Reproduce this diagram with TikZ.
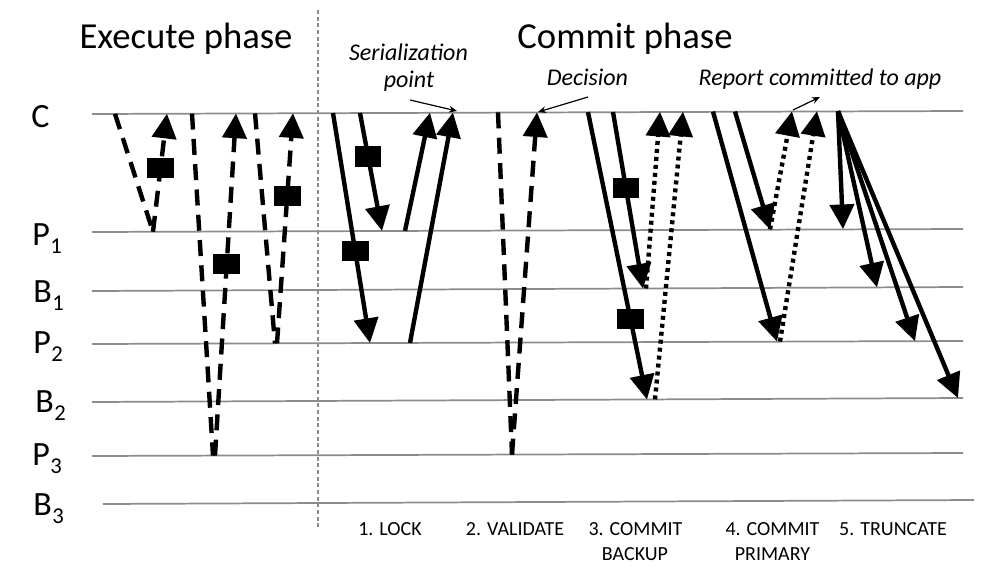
\documentclass[tikz,border=0pt]{standalone}
\usepackage{fontspec}
\setmainfont{Carlito}
\usetikzlibrary{arrows.meta}
\newcommand\lanesub[2]{#1\kern0.5pt\raisebox{-6pt}{\fontsize{17}{17}\selectfont #2}}
\begin{document}
\begin{tikzpicture}[x=0.75pt,y=-0.75pt,
  lane/.style={draw=black!45, line width=1.3pt},
  divider/.style={draw=black!45, line width=0.9pt, dash pattern=on 3pt off 2pt},
  msg/.style={draw=black, line width=3.3pt},
  arr/.style={-{Triangle[length=18.5pt,width=18pt]}},
  dsh/.style={dash pattern=on 12pt off 7pt},
  dts/.style={dash pattern=on 3pt off 3pt},
  sq/.style={fill=black, minimum width=20pt, minimum height=15.5pt, inner sep=0pt, outer sep=0pt},
  note/.style={draw=black, line width=0.9pt, -{Stealth[length=6pt,width=5pt]}},
  head/.style={font=\fontsize{27.5}{30}\selectfont, anchor=base, inner sep=0pt},
  lanelbl/.style={font=\fontsize{25.5}{28}\selectfont, anchor=base west, inner sep=0pt},
  ital/.style={font=\fontsize{18}{20}\selectfont\itshape, anchor=base, inner sep=0pt},
  stepl/.style={font=\fontsize{15}{17}\selectfont, anchor=base, inner sep=0pt}]
\useasboundingbox (0,0) rectangle (990,576);
\fill[white] (0,0) rectangle (990,576);

% lanes
\coordinate (Cl) at (92,114);  \coordinate (Cr) at (963,111);
\coordinate (P1l) at (92,232); \coordinate (P1r) at (963,229);
\coordinate (B1l) at (92,291); \coordinate (B1r) at (963,287);
\coordinate (P2l) at (92,344); \coordinate (P2r) at (963,341);
\coordinate (B2l) at (92,402); \coordinate (B2r) at (963,398);
\coordinate (P3l) at (92,456); \coordinate (P3r) at (963,453);
\coordinate (B3l) at (103,504); \coordinate (B3r) at (974,500);
\foreach \l in {C,P1,B1,P2,B2,P3,B3} {\draw[lane] (\l l) -- (\l r);}

% divider
\coordinate (dvt) at (318,10); \coordinate (dvb) at (318,528);
\draw[divider] (dvt) -- (dvb);

% titles
\node[head] (exec) at (186,48) {Execute phase};
\node[head] (commit) at (625,48) {Commit phase};

% lane labels
\node[lanelbl] (lC) at (31,127) {C};
\node[lanelbl] (lP1) at (32,245) {\lanesub{P}{1}};
\node[lanelbl] (lB1) at (33,302) {\lanesub{B}{1}};
\node[lanelbl] (lP2) at (33,353) {\lanesub{P}{2}};
\node[lanelbl] (lB2) at (35,412) {\lanesub{B}{2}};
\node[lanelbl] (lP3) at (32,465) {\lanesub{P}{3}};
\node[lanelbl] (lB3) at (33,515) {\lanesub{B}{3}};

% ---------- execute phase ----------
\coordinate (e1a) at (115,113.9); \coordinate (e1b) at (153,231.8); \coordinate (e1c) at (167,113.7);
\draw[msg,dsh] (e1a) -- (e1b);
\draw[msg,dsh,arr] (e1b) -- node[sq,pos=.54] (s1) {} (e1c);
\coordinate (e2a) at (192,113.6); \coordinate (e2b) at (213,455.6); \coordinate (e2c) at (215,455.6); \coordinate (e2d) at (236,113.5);
\draw[msg,dsh] (e2a) -- (e2b);
\draw[msg,dsh,arr] (e2c) -- node[sq,pos=.56] (s2) {} (e2d);
\coordinate (e3a) at (255,113.4); \coordinate (e3b) at (275,343.4); \coordinate (e3c) at (277,343.4); \coordinate (e3d) at (293,113.2);
\draw[msg,dsh] (e3a) -- (e3b);
\draw[msg,dsh,arr] (e3c) -- node[sq,pos=.64] (s3) {} (e3d);

% ---------- 1. lock ----------
\coordinate (k1a) at (333,113.1); \coordinate (k1b) at (370,343);
\draw[msg,arr] (k1a) -- node[sq,pos=.60] (s4) {} (k1b);
\coordinate (k2a) at (360,113); \coordinate (k2b) at (382,230.9);
\draw[msg,arr] (k2a) -- node[sq,pos=.37] (s5) {} (k2b);
\coordinate (k3a) at (405,230.8); \coordinate (k3b) at (430,112.7);
\draw[msg,arr] (k3a) -- (k3b);
\coordinate (k4a) at (410,342.9); \coordinate (k4b) at (453,112.6);
\draw[msg,arr] (k4a) -- (k4b);

% ---------- 2. validate ----------
\coordinate (v1a) at (498,112.4); \coordinate (v1b) at (512,454.6); \coordinate (v1c) at (537,112.3);
\draw[msg,dsh] (v1a) -- (v1b);
\draw[msg,dsh,arr] (v1b) -- (v1c);

% ---------- 3. commit backup ----------
\coordinate (b1a) at (588,112.1); \coordinate (b1b) at (647,399.5);
\draw[msg,arr] (b1a) -- node[sq,pos=.72] (s6) {} (b1b);
\coordinate (b2a) at (613,112); \coordinate (b2b) at (643,288.5);
\draw[msg,arr] (b2a) -- node[sq,pos=.43] (s7) {} (b2b);
\coordinate (b3a) at (646,288.5); \coordinate (b3b) at (660,111.8);
\draw[msg,dts,arr] (b3a) -- (b3b);
\coordinate (b4a) at (655,399.4); \coordinate (b4b) at (683,111.7);
\draw[msg,dts,arr] (b4a) -- (b4b);

% ---------- 4. commit primary ----------
\coordinate (p1a) at (713,111.6); \coordinate (p1b) at (777,341.6);
\draw[msg,arr] (p1a) -- (p1b);
\coordinate (p2a) at (735,111.5); \coordinate (p2b) at (770,229.4);
\draw[msg,arr] (p2a) -- (p2b);
\coordinate (p3a) at (770,229.4); \coordinate (p3b) at (792,111.3);
\draw[msg,dts,arr] (p3a) -- (p3b);
\coordinate (p4a) at (780,341.6); \coordinate (p4b) at (817,111.2);
\draw[msg,dts,arr] (p4a) -- (p4b);

% ---------- 5. truncate ----------
\coordinate (t0) at (838,111.2);
\coordinate (t1) at (843,229.1); \coordinate (t2) at (877,287.4);
\coordinate (t3) at (915,341.2); \coordinate (t4) at (958,398);
\draw[msg,arr] (t0) -- (t1);
\draw[msg,arr] (t0) -- (t2);
\draw[msg,arr] (t0) -- (t3);
\draw[msg,arr] (t0) -- (t4);

% annotations
\node[ital] (ser1) at (408.5,60) {Serialization};
\node[ital] (ser2) at (409,87) {point};
\coordinate (sera) at (410,100); \coordinate (serb) at (457,111);
\draw[note] (sera) -- (serb);
\node[ital] (dec) at (587.5,85) {Decision};
\coordinate (deca) at (588,97); \coordinate (decb) at (538,112);
\draw[note] (deca) -- (decb);
\node[ital] (rep) at (820,85) {Report committed to app};
\coordinate (repa) at (793,110); \coordinate (repb) at (820,97);
\draw[note] (repa) -- (repb);

% step labels
\node[stepl] (st1) at (390,535) {1. LOCK};
\node[stepl] (st2) at (515,535) {2. VALIDATE};
\node[stepl] (st3a) at (635.5,535) {3. COMMIT};
\node[stepl] (st3b) at (635,560) {BACKUP};
\node[stepl] (st4a) at (772.5,535) {4. COMMIT};
\node[stepl] (st4b) at (772.5,560) {PRIMARY};
\node[stepl] (st5) at (893,535) {5. TRUNCATE};
\end{tikzpicture}
\end{document}
